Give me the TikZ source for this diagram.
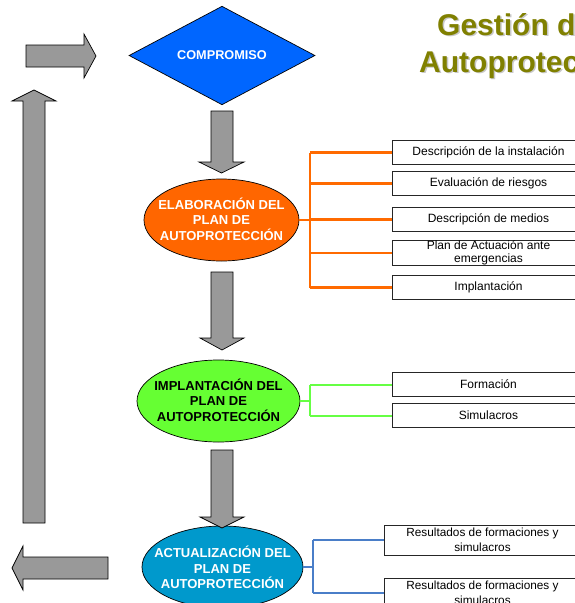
\documentclass[tikz,border=0pt]{standalone}
\usepackage{fontspec}
\setmainfont{Liberation Sans}
\usetikzlibrary{shapes.geometric,calc}
\definecolor{diamblue}{HTML}{0066FF}
\definecolor{elorange}{HTML}{FF6600}
\definecolor{elgreen}{HTML}{66FF33}
\definecolor{elblue}{HTML}{0099CC}
\definecolor{lnorange}{HTML}{FF6A00}
\definecolor{lngreen}{HTML}{66FF44}
\definecolor{lnblue}{HTML}{4A7EC8}
\definecolor{arrowgray}{HTML}{999999}
\definecolor{titleolive}{HTML}{808000}
\definecolor{titleshadow}{HTML}{C8C8C8}
\tikzset{
  blockarrow/.style={fill=arrowgray, draw=black, line width=0.7pt, line join=miter},
  ellip/.style={ellipse, draw=black, line width=0.7pt, inner sep=0pt},
  etext/.style={align=center, font=\bfseries\fontsize{13}{15.5}\selectfont, inner sep=0pt},
  itembox/.style={draw=black!85, line width=1pt, fill=white, inner sep=0pt, align=center,
    minimum width=192pt, minimum height=24pt, anchor=west,
    font=\fontsize{12}{13}\selectfont},
  resbox/.style={itembox, minimum width=196pt, minimum height=30pt, font=\fontsize{11.8}{14.5}\selectfont},
  oline/.style={draw=lnorange, line width=2.2pt},
  gline/.style={draw=lngreen, line width=2pt},
  bline/.style={draw=lnblue, line width=1.6pt},
  titletext/.style={anchor=base west, inner sep=0pt, font=\bfseries\fontsize{30}{36}\selectfont}
}
\begin{document}
\begin{tikzpicture}[x=1pt,y=-1pt]
\useasboundingbox (0,0) rectangle (575,603);
\clip (0,0) rectangle (575,603);

% title
\node[titletext, text=titleshadow] (t1s) at (438.5,36.5) {Gestión de};
\node[titletext, text=titleolive] (t1) at (437,35) {Gestión de};
\node[titletext, text=titleshadow] (t2s) at (420.5,73.5) {Autoprotección};
\node[titletext, text=titleolive] (t2) at (419,72) {Autoprotección};

% diamond
\node[diamond, draw=black, line width=0.7pt, fill=diamblue, minimum width=186pt, minimum height=93pt,
  inner sep=0pt, text=white, font=\bfseries\fontsize{12.7}{15}\selectfont] (comp) at (222,55.5) {COMPROMISO};

% ellipses
\node[ellip, fill=elorange, minimum width=155pt, minimum height=82pt] (elab) at (221.5,220) {};
\node[etext, text=white] (elabtext) at (221.5,219) {ELABORACIÓN DEL\\PLAN DE\\AUTOPROTECCIÓN};

\node[ellip, fill=elgreen, minimum width=163pt, minimum height=82pt] (impl) at (218.5,401) {};
\node[etext, text=black] (impltext) at (218.5,400) {IMPLANTACIÓN DEL\\PLAN DE\\AUTOPROTECCIÓN};

\node[ellip, fill=elblue, minimum width=161pt, minimum height=82pt] (actu) at (222.5,567) {};
\node[etext, text=white] (actutext) at (222.5,567.5) {ACTUALIZACIÓN DEL\\PLAN DE\\AUTOPROTECCIÓN};

% block arrows
\draw[blockarrow] (211,111) -- (233,111) -- (233,162) -- (244,162) -- (221.5,173) -- (199,162) -- (211,162) -- cycle;
\draw[blockarrow] (211,272) -- (233,272) -- (233,338) -- (244,338) -- (222,350) -- (200,338) -- (211,338) -- cycle;
\draw[blockarrow] (211,450) -- (233,450) -- (233,517) -- (244,517) -- (222,528) -- (200,517) -- (211,517) -- cycle;
\draw[blockarrow] (23,523) -- (45,523) -- (45,101) -- (56,101) -- (34,90) -- (12,101) -- (23,101) -- cycle;
\draw[blockarrow] (26,45) -- (84,45) -- (84,34) -- (96,56) -- (84,78) -- (84,67) -- (26,67) -- cycle;
\draw[blockarrow] (108,557) -- (23,557) -- (23,546) -- (12,568) -- (23,590) -- (23,579) -- (108,579) -- cycle;

% orange boxes
\node[itembox] (b1) at (392,152.5) {Descripción de la instalación};
\node[itembox] (b2) at (392,183.5) {Evaluación de riesgos};
\node[itembox] (b3) at (392,219.5) {Descripción de medios};
\node[itembox] (b4) at (392,253) {Plan de Actuación ante\\emergencias};
\node[itembox] (b5) at (392,287.5) {Implantación};
\coordinate (oj) at (310,220);
\draw[oline] (elab.east) -- (oj);
\draw[oline] (oj |- b1.west) -- (oj |- b5.west);
\foreach \b in {b1,b2,b3,b4,b5} { \draw[oline] (oj |- \b.west) -- (\b.west); }

% green boxes
\node[itembox] (g1) at (392,384.5) {Formación};
\node[itembox] (g2) at (392,415.5) {Simulacros};
\coordinate (gj) at (310,401);
\draw[gline] (impl.east) -- (gj);
\draw[gline] (gj |- g1.west) -- (gj |- g2.west);
\foreach \b in {g1,g2} { \draw[gline] (gj |- \b.west) -- (\b.west); }

% blue boxes
\node[resbox] (r1) at (384,540) {Resultados de formaciones y\\simulacros};
\node[resbox] (r2) at (384,593) {Resultados de formaciones y\\simulacros};
\coordinate (bj) at (313,567);
\draw[bline] (actu.east) -- (bj);
\draw[bline] (bj |- r1.west) -- (bj |- r2.west);
\foreach \b in {r1,r2} { \draw[bline] (bj |- \b.west) -- (\b.west); }
\end{tikzpicture}
\end{document}
